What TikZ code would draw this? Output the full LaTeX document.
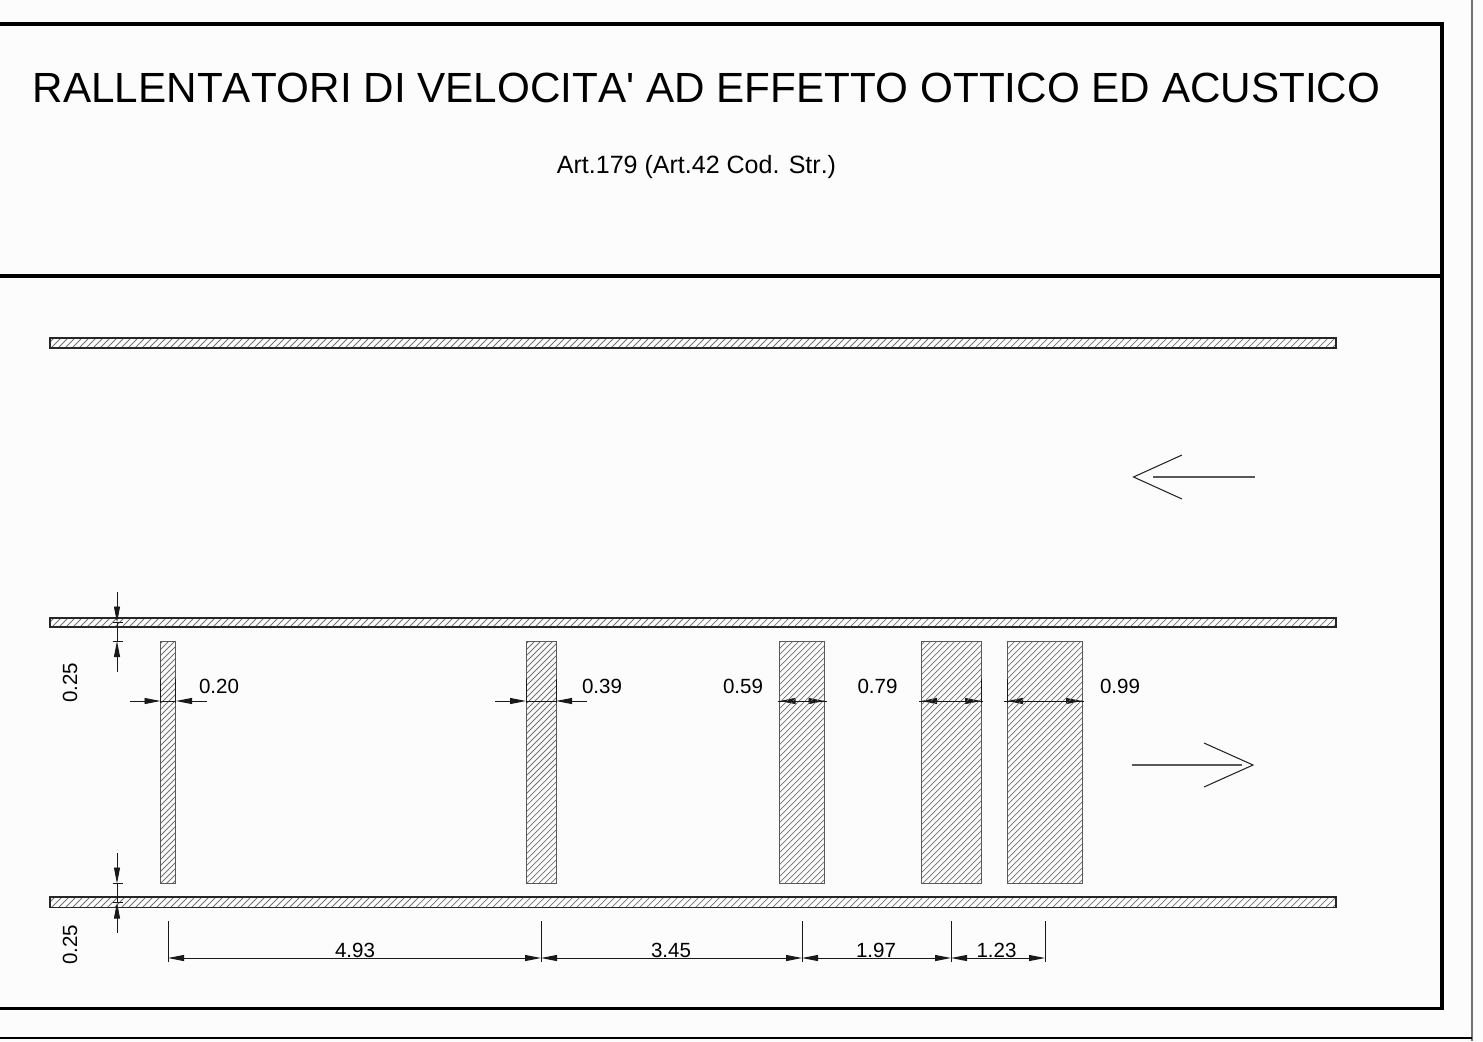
\documentclass[tikz,border=0pt]{standalone}
\usepackage{fontspec}
\setmainfont{Liberation Sans}
\newfontfamily\plainsans[Kerning=Off]{Liberation Sans}
\usetikzlibrary{arrows.meta}
\definecolor{paper}{HTML}{FCFCFC}
\tikzset{
  frameline/.style={line width=2.8pt,black,line cap=butt,line join=miter},
  pageedge/.style={line width=1.2pt,black!55},
  pagebase/.style={line width=.8pt,black},
  stripline/.style={line width=.8pt,black!85},
  barline/.style={line width=.7pt,black!65},
  hatchline/.style={line width=.55pt,black!55},
  dimline/.style={line width=.7pt,black!90},
  ext/.style={line width=.7pt,black!90},
  dimboth/.style={dimline,{Triangle[length=12pt,width=4.5pt]}-{Triangle[length=12pt,width=4.5pt]}},
  dimend/.style={dimline,-{Triangle[length=12pt,width=4.5pt]}},
  dimtxt/.style={font=\plainsans\fontsize{15.4pt}{18pt}\selectfont,inner sep=0pt,black},
  bigarrow/.style={line width=.8pt,black!85},
  bigshaft/.style={line width=1pt,black!65}
}
\newcommand{\hatchbox}[6]{% x1 y1 x2 y2 spacing outline-style
  \begin{scope}
    \clip (#1,#2) rectangle (#3,#4);
    \pgfmathsetmacro{\hstart}{floor((#1+#2)/#5)*#5}
    \pgfmathsetmacro{\hnext}{\hstart+#5}
    \pgfmathsetmacro{\hend}{#3+#4}
    \foreach \c in {\hstart,\hnext,...,\hend}{
      \draw[hatchline] ({\c-#2},#2) -- ({\c-#4},#4);
    }
  \end{scope}
  \draw[#6] (#1,#2) rectangle (#3,#4);
}
\begin{document}
\begin{tikzpicture}[x=.75pt,y=-.75pt]
\useasboundingbox (0,0) rectangle (1483,1041);
\fill[paper] (0,0) rectangle (1483,1041);
% page edges
\draw[pageedge] (1472,0) -- (1472,1041);
\draw[pagebase] (0,1038) -- (1472,1038);
% frame
\draw[frameline] (0,24.3) -- (1442,24.3) -- (1442,1008.5) -- (0,1008.5);
\draw[frameline] (0,276) -- (1442,276);
% titles
\node[font=\plainsans\fontsize{31.66pt}{38pt}\selectfont,inner sep=0pt] (title) at (706.5,87.5) {RALLENTATORI DI VELOCITA' AD EFFETTO OTTICO ED ACUSTICO};
\node[font=\plainsans\fontsize{18.77pt}{23pt}\selectfont,inner sep=0pt] (sub) at (696.5,167.5) {Art.179 (Art.42 Cod. Str.)};
% dimensions below hatching
\draw[dimend] (130,701) -- (160.5,701);
\draw[dimend] (207,701) -- (176,701);
\draw[dimend] (495,701) -- (526,701);
\draw[dimend] (587,701) -- (556,701);
\draw[dimboth] (779.5,701) -- (824.5,701);
\draw[dimboth] (921,701) -- (981,701);
\draw[dimboth] (1007,701) -- (1082,701);
% road strips
\hatchbox{50}{338}{1336}{348}{7}{stripline}
\hatchbox{50}{618}{1336}{627}{7}{stripline}
\hatchbox{50}{897}{1336}{907.5}{7}{stripline}
% transverse bars
\hatchbox{160.7}{641}{175.7}{883.5}{6}{barline}
\hatchbox{526}{641}{556}{883.5}{6}{barline}
\hatchbox{779.5}{641}{824.5}{883.5}{6}{barline}
\hatchbox{921}{641}{981}{883.5}{6}{barline}
\hatchbox{1007}{641}{1082}{883.5}{6}{barline}
% dimension lines over the hatching
\draw[dimline] (160.5,701) -- (176,701);
\draw[dimline] (526,701) -- (556,701);
\draw[dimline] (777.5,701) -- (826.5,701);
\draw[dimline] (919,701) -- (983,701);
\draw[dimline] (1004,701) -- (1084,701);
% extension lines on the bar edges
\draw[ext] (160.7,679) -- (160.7,703);
\draw[ext] (175.7,679) -- (175.7,703);
\draw[ext] (526,679) -- (526,703);
\draw[ext] (556,679) -- (556,703);
\draw[ext] (981,679) -- (981,703);
\draw[ext] (1007,679) -- (1007,703);
% vertical dimension 0.25 upper
\draw[dimend] (117,592) -- (117,622.5);
\draw[dimend] (117,671.5) -- (117,641);
\draw[dimline] (117,622.5) -- (117,641);
\draw[ext] (112.5,622.5) -- (123,622.5);
\draw[ext] (112.5,641) -- (123,641);
% vertical dimension 0.25 lower
\draw[dimend] (117,853) -- (117,883.5);
\draw[dimend] (117,932.5) -- (117,902.5);
\draw[dimline] (117,883.5) -- (117,902.5);
\draw[ext] (112.5,883.5) -- (123,883.5);
\draw[ext] (112.5,902.5) -- (123,902.5);
% horizontal chain
\draw[ext] (168,921) -- (168,962);
\draw[ext] (541,921) -- (541,962);
\draw[ext] (802,921) -- (802,962);
\draw[ext] (951,921) -- (951,962);
\draw[ext] (1045,921) -- (1045,962);
\draw[dimboth] (168,958) -- (541,958);
\draw[dimboth] (541,958) -- (802,958);
\draw[dimboth] (802,958) -- (951,958);
\draw[dimboth] (951,958) -- (1045,958);
% labels
\node[dimtxt] (w1) at (219,686.5) {0.20};
\node[dimtxt] (w2) at (602,686.5) {0.39};
\node[dimtxt] (w3) at (743,686.5) {0.59};
\node[dimtxt] (w4) at (877.5,686.5) {0.79};
\node[dimtxt] (w5) at (1120,686.5) {0.99};
\node[dimtxt,rotate=90] (h1) at (70,683) {0.25};
\node[dimtxt,rotate=90] (h2) at (70,945) {0.25};
\node[dimtxt] (d1) at (355,950) {4.93};
\node[dimtxt] (d2) at (671,950) {3.45};
\node[dimtxt] (d3) at (876,950) {1.97};
\node[dimtxt] (d4) at (996.5,950) {1.23};
% direction arrows
\draw[bigarrow] (1182,455) -- (1133.5,477) -- (1182,499);
\draw[bigshaft] (1153,477) -- (1254.5,477);
\draw[bigarrow] (1204,743) -- (1253,765) -- (1204,787);
\draw[bigshaft] (1131.5,765) -- (1242,765);
\end{tikzpicture}
\end{document}
